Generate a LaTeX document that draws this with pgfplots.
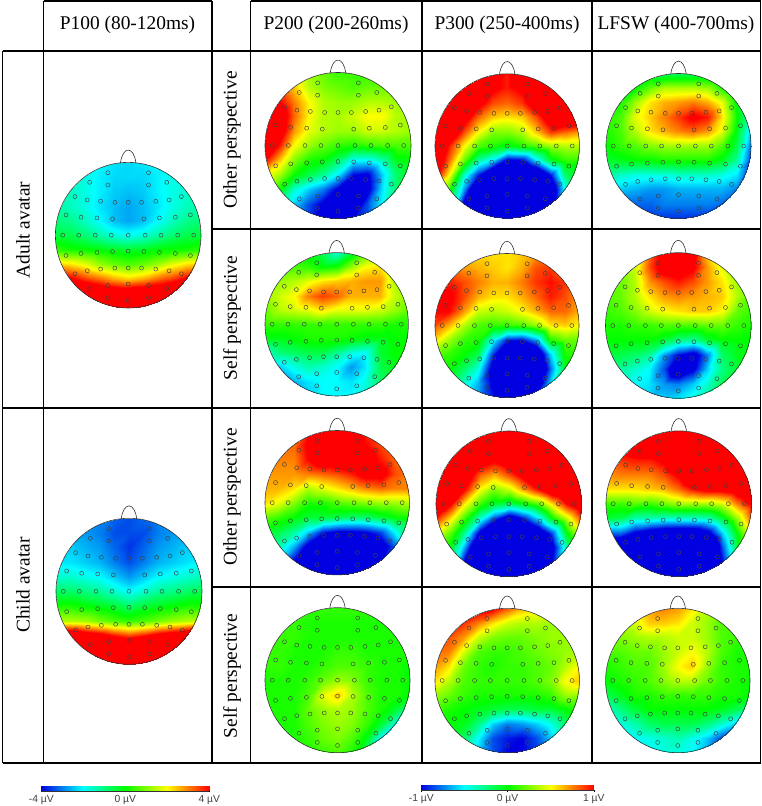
\documentclass[border=0pt]{standalone}
\usepackage{fontspec}
\setmainfont{Liberation Serif}
\setsansfont{Liberation Sans}
\usepackage{pgfplots}
\usepackage{pgfplotstable}
\pgfplotsset{compat=1.18}
% the scale runs over twice the printed range; beyond the printed range the colour stays saturated
\pgfplotsset{colormap={eeg}{rgb255=(0,0,225) rgb255=(0,0,225) rgb255=(0,0,225) rgb255=(0,255,255) rgb255=(0,255,0) rgb255=(255,255,0) rgb255=(255,0,0) rgb255=(255,0,0) rgb255=(255,0,0)}}

\pgfplotstableread{
x y
-0.279 0.858
0.279 0.858
-0.530 0.726
0.530 0.726
-0.279 0.689
0.279 0.689
-0.731 0.530
0.731 0.530
-0.562 0.484
0.562 0.484
-0.379 0.466
0.379 0.466
-0.183 0.452
0.183 0.452
0 0.452
-0.854 0.279
0.854 0.279
-0.648 0.247
0.648 0.247
-0.429 0.237
0.429 0.237
-0.215 0.224
0.215 0.224
-0.900 0
0.900 0
-0.680 0
0.680 0
-0.452 0
0.452 0
-0.233 0
0.233 0
0 0
-0.854 -0.279
0.854 -0.279
-0.648 -0.251
0.648 -0.251
-0.429 -0.237
0.429 -0.237
-0.215 -0.224
0.215 -0.224
0 -0.219
-0.731 -0.530
0.731 -0.530
-0.562 -0.489
0.562 -0.489
-0.379 -0.466
0.379 -0.466
-0.183 -0.452
0.183 -0.452
0 -0.452
-0.530 -0.731
0.530 -0.731
-0.279 -0.689
0.279 -0.689
0 -0.671
-0.279 -0.858
0.279 -0.858
0 -0.900
}\electrodes

% P100 adult
\pgfplotstableread[row sep=\\,header=false]{
-1.8\\-1.8\\-2\\-2\\-2.2\\-2.3\\-2.2\\-2\\-2\\-1.8\\-1.8\\
-1.6\\-1.6\\-1.8\\-2.1\\-2.3\\-2.3\\-2.3\\-2.1\\-1.8\\-1.8\\-1.6\\
-1.4\\-1.5\\-1.8\\-2.1\\-2.4\\-2.5\\-2.4\\-2.1\\-1.8\\-1.6\\-1.4\\
-1.3\\-1.5\\-1.8\\-2.2\\-2.5\\-2.7\\-2.5\\-2.2\\-1.8\\-1.5\\-1.3\\
-0.9\\-1.1\\-1.5\\-2\\-2.5\\-2.7\\-2.5\\-2\\-1.5\\-1.1\\-0.9\\
-0.5\\-0.6\\-0.9\\-1.3\\-1.7\\-1.9\\-1.7\\-1.3\\-0.9\\-0.6\\-0.5\\
0.4\\0.2\\0.1\\0\\-0.2\\-0.3\\-0.2\\0\\0.1\\0.2\\0.4\\
2.4\\2.2\\1.8\\1.2\\0.8\\0.6\\0.8\\1.2\\1.8\\2.2\\2.4\\
4.6\\4.2\\3.6\\3.2\\2.7\\2.4\\2.7\\3.2\\3.6\\4.2\\4.6\\
6\\6\\5.6\\5.2\\5\\5\\5\\5.2\\5.6\\6\\6\\
7\\7\\7\\7\\7\\7\\7\\7\\7\\7\\7\\
}\tPA
% P100 child
\pgfplotstableread[row sep=\\,header=false]{
-2.8\\-2.8\\-2.8\\-3\\-3.2\\-3.4\\-3.2\\-3\\-2.8\\-2.8\\-2.8\\
-2.6\\-2.6\\-2.8\\-3\\-3.4\\-3.4\\-3.4\\-3\\-2.8\\-2.6\\-2.6\\
-2.4\\-2.4\\-2.6\\-2.8\\-3.2\\-3.6\\-3.2\\-2.8\\-2.6\\-2.4\\-2.4\\
-2.2\\-2.2\\-2.4\\-2.6\\-3\\-3.4\\-3\\-2.6\\-2.4\\-2.2\\-2\\
-1.6\\-1.6\\-1.8\\-2\\-2.4\\-2.8\\-2.4\\-2\\-1.8\\-1.6\\-1.4\\
-0.8\\-0.8\\-1\\-1.2\\-1.6\\-2\\-1.6\\-1.2\\-1\\-0.8\\-0.6\\
0.2\\0.2\\0\\-0.2\\-0.4\\-0.8\\-0.4\\-0.2\\0\\0.2\\0.2\\
1.4\\1.4\\1.3\\0.9\\0.6\\0.4\\0.6\\0.9\\1.2\\1.4\\1.6\\
5.4\\5.4\\4.8\\4.4\\3.8\\3.4\\3.8\\4.4\\4.8\\5.4\\5.6\\
7\\7\\7\\7\\6.5\\6.5\\6.5\\7\\7\\7\\7\\
8\\8\\8\\8\\8\\8\\8\\8\\8\\8\\8\\
}\tPC
% row 1
\pgfplotstableread[row sep=\\,header=false]{
0.4\\0.4\\0.3\\0.3\\0.2\\0.1\\0.1\\0.1\\0.1\\0.1\\0.1\\
0.8\\0.8\\0.6\\0.35\\0.25\\0.2\\0.15\\0.2\\0.2\\0.2\\0.2\\
1.1\\1\\0.75\\0.5\\0.35\\0.3\\0.3\\0.35\\0.35\\0.3\\0.3\\
1.4\\1.2\\0.8\\0.5\\0.35\\0.33\\0.4\\0.5\\0.5\\0.35\\0.3\\
1.4\\1.15\\0.7\\0.45\\0.35\\0.3\\0.3\\0.4\\0.4\\0.35\\0.3\\
1.3\\0.95\\0.5\\0.3\\0.2\\0.1\\0.05\\0.1\\0.15\\0.15\\0.15\\
1\\0.6\\0.25\\0.05\\0\\-0.2\\-0.5\\-0.5\\-0.35\\-0.05\\0\\
0.5\\0.3\\0\\-0.15\\-0.3\\-0.55\\-1\\-1.05\\-0.6\\-0.2\\-0.05\\
0.3\\0\\-0.4\\-0.6\\-0.75\\-1.05\\-1.4\\-1.1\\-0.55\\-0.2\\-0.1\\
-0.1\\-0.3\\-0.6\\-0.85\\-1.05\\-1.2\\-1.2\\-0.85\\-0.5\\-0.3\\-0.2\\
-0.3\\-0.5\\-0.7\\-0.9\\-1.1\\-1.1\\-1\\-0.85\\-0.6\\-0.4\\-0.3\\
}\tAa
\pgfplotstableread[row sep=\\,header=false]{
1.5\\1.5\\1.5\\1.4\\1.2\\0.95\\1.2\\1.5\\1.6\\1.6\\1.6\\
1.5\\1.5\\1.5\\1.3\\1.05\\0.95\\1.05\\1.4\\1.6\\1.6\\1.6\\
1.6\\1.5\\1.4\\1.1\\0.85\\0.8\\0.9\\1.2\\1.5\\1.6\\1.6\\
1.6\\1.5\\1.15\\0.8\\0.6\\0.55\\0.6\\0.85\\1.2\\1.3\\1.3\\
1.6\\1.3\\0.85\\0.5\\0.25\\0.25\\0.35\\0.6\\0.9\\0.8\\0.7\\
1.5\\0.95\\0.5\\0.15\\0.05\\-0.05\\0.05\\0.15\\0.3\\0.35\\0.35\\
1.3\\0.8\\0.2\\-0.3\\-0.55\\-1.05\\-1\\-0.55\\-0.05\\0.1\\0.1\\
1.1\\0.5\\-0.4\\-0.95\\-1.5\\-1.8\\-1.8\\-1.5\\-0.95\\-0.2\\0\\
0.5\\0.1\\-0.7\\-1.5\\-2\\-2\\-2\\-2\\-1.3\\-0.45\\-0.1\\
0.2\\-0.1\\-1.1\\-2\\-2\\-2\\-2\\-2\\-1.3\\-0.7\\-0.3\\
-0.6\\-0.9\\-1.5\\-2\\-2\\-2\\-2\\-2\\-1.5\\-1\\-0.8\\
}\tAb
\pgfplotstableread[row sep=\\,header=false]{
-0.1\\-0.1\\-0.1\\-0.1\\-0.2\\-0.2\\-0.2\\-0.2\\-0.2\\-0.2\\-0.2\\
0\\0\\0\\0.2\\0.35\\0.35\\0.35\\0.3\\0.05\\-0.2\\-0.3\\
0\\0.05\\0.3\\0.55\\0.65\\0.7\\0.75\\0.65\\0.45\\-0.05\\-0.3\\
0.05\\0.15\\0.45\\0.6\\0.75\\0.9\\1.05\\0.95\\0.55\\0\\-0.4\\
0.05\\0.15\\0.35\\0.55\\0.65\\0.75\\0.8\\0.7\\0.45\\-0.05\\-0.6\\
0\\0.1\\0.15\\0.25\\0.3\\0.3\\0.3\\0.3\\0.15\\-0.15\\-0.8\\
-0.1\\-0.05\\0\\0\\0.05\\0.05\\0.05\\0.05\\-0.05\\-0.3\\-0.9\\
-0.3\\-0.4\\-0.45\\-0.45\\-0.45\\-0.4\\-0.4\\-0.4\\-0.45\\-0.55\\-0.95\\
-0.5\\-0.6\\-0.65\\-0.7\\-0.7\\-0.65\\-0.65\\-0.65\\-0.65\\-0.75\\-0.95\\
-0.8\\-0.8\\-0.8\\-0.8\\-0.75\\-0.75\\-0.75\\-0.75\\-0.8\\-0.85\\-0.9\\
-0.85\\-0.9\\-0.9\\-0.9\\-0.9\\-0.9\\-0.9\\-0.9\\-0.9\\-0.9\\-0.9\\
}\tAc
% row 2
\pgfplotstableread[row sep=\\,header=false]{
0.1\\0.1\\0.05\\-0.05\\-0.15\\-0.4\\-0.1\\0.15\\0.25\\0.25\\0.2\\
0.15\\0.15\\0.15\\0.1\\0\\0.05\\0.3\\0.5\\0.55\\0.3\\0.2\\
0.3\\0.3\\0.35\\0.45\\0.55\\0.6\\0.65\\0.7\\0.7\\0.35\\0.2\\
0.3\\0.4\\0.5\\0.75\\0.88\\0.8\\0.65\\0.65\\0.65\\0.4\\0.25\\
0.2\\0.35\\0.4\\0.45\\0.55\\0.45\\0.45\\0.45\\0.4\\0.3\\0.2\\
0.1\\0.1\\0.1\\0.1\\0.1\\0.1\\0.1\\0.1\\0.1\\0.05\\0.05\\
-0.05\\-0.05\\0\\0.05\\0.05\\0.05\\0\\-0.05\\-0.05\\0\\0\\
-0.4\\-0.25\\-0.2\\-0.15\\-0.15\\-0.3\\-0.45\\-0.5\\-0.1\\0\\0.05\\
-0.6\\-0.6\\-0.45\\-0.35\\-0.4\\-0.5\\-0.7\\-0.55\\-0.15\\-0.05\\-0.05\\
-0.8\\-0.8\\-0.65\\-0.55\\-0.5\\-0.5\\-0.55\\-0.45\\-0.2\\-0.1\\-0.1\\
-0.8\\-0.8\\-0.7\\-0.6\\-0.5\\-0.5\\-0.5\\-0.4\\-0.3\\-0.2\\-0.1\\
}\tBa
\pgfplotstableread[row sep=\\,header=false]{
0.6\\0.6\\0.55\\0.55\\0.55\\0.55\\0.6\\0.7\\0.75\\0.7\\0.6\\
0.7\\0.7\\0.7\\0.65\\0.6\\0.55\\0.65\\0.85\\0.9\\0.75\\0.7\\
0.95\\0.95\\0.85\\0.75\\0.65\\0.65\\0.75\\0.9\\0.98\\0.9\\0.7\\
1.05\\1.05\\0.85\\0.65\\0.55\\0.55\\0.65\\0.8\\0.95\\0.85\\0.7\\
1\\1\\0.7\\0.4\\0.35\\0.4\\0.5\\0.65\\0.8\\0.8\\0.65\\
0.85\\0.65\\0.35\\0.15\\0.1\\0.1\\0.15\\0.3\\0.55\\0.6\\0.5\\
0.55\\0.3\\0.1\\0.05\\-0.5\\-0.95\\-1\\-0.7\\0.05\\0.2\\0.2\\
0.2\\0.1\\0\\-0.15\\-0.9\\-1.5\\-1.7\\-1.4\\-0.6\\0.05\\0.1\\
0\\0\\-0.2\\-0.45\\-1.15\\-1.9\\-2\\-1.6\\-0.8\\-0.05\\0\\
-0.1\\-0.15\\-0.4\\-0.65\\-1.05\\-1.7\\-1.7\\-1.3\\-0.6\\-0.15\\0\\
-0.2\\-0.3\\-0.5\\-0.7\\-0.95\\-1.2\\-1.2\\-0.9\\-0.4\\-0.2\\-0.1\\
}\tBb
\pgfplotstableread[row sep=\\,header=false]{
0.3\\0.3\\0.4\\0.8\\1.1\\1.2\\1.1\\0.6\\0.3\\0.2\\0.15\\
0.2\\0.25\\0.4\\0.85\\1.15\\1.2\\1.05\\0.7\\0.45\\0.2\\0.15\\
0.15\\0.2\\0.35\\0.7\\0.85\\0.95\\0.85\\0.7\\0.55\\0.3\\0.15\\
0.15\\0.2\\0.35\\0.55\\0.7\\0.75\\0.7\\0.65\\0.6\\0.35\\0.15\\
0.1\\0.15\\0.25\\0.4\\0.5\\0.55\\0.6\\0.6\\0.5\\0.2\\0.1\\
0.05\\0.05\\0.1\\0.1\\0.15\\0.15\\0.15\\0.2\\0.2\\0.1\\0.05\\
0\\0\\0\\0\\-0.1\\-0.25\\-0.3\\-0.1\\0\\0\\0\\
-0.1\\-0.15\\-0.2\\-0.3\\-0.7\\-1\\-1.15\\-0.75\\-0.2\\-0.05\\0\\
-0.25\\-0.3\\-0.4\\-0.5\\-0.85\\-1.3\\-1.05\\-0.6\\-0.25\\-0.1\\0\\
-0.35\\-0.4\\-0.5\\-0.55\\-0.7\\-0.75\\-0.6\\-0.4\\-0.15\\-0.1\\-0.05\\
-0.5\\-0.5\\-0.55\\-0.6\\-0.6\\-0.55\\-0.45\\-0.3\\-0.15\\-0.1\\-0.05\\
}\tBc
% row 3
\pgfplotstableread[row sep=\\,header=false]{
0.75\\0.75\\0.8\\0.95\\1.2\\1.3\\1.1\\0.9\\0.8\\0.75\\0.7\\
0.7\\0.7\\0.8\\1.05\\1.4\\1.4\\1.2\\1\\0.85\\0.75\\0.7\\
0.75\\0.75\\0.75\\1\\1.2\\1.2\\1.3\\1.15\\0.95\\0.8\\0.75\\
0.7\\0.7\\0.7\\0.75\\0.8\\0.85\\0.95\\1.1\\1.1\\0.85\\0.75\\
0.65\\0.65\\0.55\\0.35\\0.45\\0.55\\0.65\\0.75\\0.8\\0.75\\0.75\\
0.55\\0.45\\0.25\\0.05\\0.05\\0.15\\0.2\\0.25\\0.3\\0.3\\0.35\\
0.2\\0.1\\0\\-0.1\\-0.1\\-0.15\\-0.2\\-0.2\\-0.1\\0\\0.05\\
-0.05\\-0.15\\-0.3\\-0.6\\-0.95\\-1.05\\-1.05\\-1\\-0.85\\-0.5\\-0.05\\
-0.2\\-0.35\\-0.65\\-1.1\\-1.4\\-1.5\\-1.5\\-1.4\\-1.15\\-0.8\\-0.2\\
-0.3\\-0.6\\-1\\-1.5\\-1.8\\-1.9\\-1.9\\-1.7\\-1.05\\-0.6\\-0.3\\
-0.5\\-0.9\\-1.5\\-1.9\\-2\\-2\\-2\\-1.7\\-1.2\\-0.8\\-0.5\\
}\tCa
\pgfplotstableread[row sep=\\,header=false]{
2\\2\\2\\2\\2\\2\\2\\2\\2\\2\\2\\
2\\2\\2\\1.8\\1.6\\1.8\\2\\2\\2\\2\\2\\
1.6\\1.6\\1.5\\1.15\\1.05\\1.2\\1.5\\1.6\\1.6\\1.6\\1.6\\
1.6\\1.5\\1.2\\0.8\\0.65\\0.85\\1.1\\1.4\\1.6\\1.6\\1.6\\
1.5\\1.3\\1\\0.5\\0.25\\0.4\\0.7\\1\\1.3\\1.5\\1.6\\
1.4\\1\\0.5\\0.1\\-0.1\\-0.2\\-0.05\\0.15\\0.55\\1\\1.3\\
0.95\\0.55\\0.1\\-0.4\\-0.85\\-1.2\\-0.95\\-0.55\\0\\0.4\\0.9\\
0.5\\0.15\\-0.3\\-1.1\\-1.6\\-1.8\\-1.6\\-1.3\\-0.85\\0\\0.45\\
0.2\\-0.05\\-0.7\\-1.6\\-2\\-2\\-2\\-1.7\\-1.1\\-0.3\\0.15\\
0\\-0.25\\-1.1\\-2\\-2\\-2\\-2\\-1.7\\-1\\-0.5\\-0.2\\
-0.5\\-1\\-1.8\\-2\\-2\\-2\\-2\\-2\\-1.8\\-1\\-0.6\\
}\tCb
\pgfplotstableread[row sep=\\,header=false]{
1.3\\1.4\\1.5\\1.7\\1.7\\1.7\\1.7\\1.7\\1.7\\1.7\\1.7\\
1.1\\1.1\\1.2\\1.3\\1.4\\1.6\\1.8\\1.8\\1.8\\1.8\\1.8\\
0.95\\0.9\\0.95\\0.95\\1.05\\1.4\\1.6\\1.7\\1.7\\1.7\\1.7\\
0.7\\0.75\\0.75\\0.75\\0.85\\1.05\\1.4\\1.5\\1.5\\1.5\\1.6\\
0.55\\0.55\\0.55\\0.6\\0.65\\0.8\\0.98\\1.1\\1.1\\1.2\\1.4\\
0.1\\0.1\\0.15\\0.1\\0.2\\0.3\\0.3\\0.3\\0.4\\0.75\\1.05\\
-0.1\\-0.15\\-0.35\\-0.35\\-0.4\\-0.4\\-0.4\\-0.35\\-0.1\\0.3\\0.85\\
-0.8\\-0.8\\-1.05\\-1.2\\-1.3\\-1.3\\-1.3\\-1.1\\-0.6\\0\\0.5\\
-1.4\\-1.5\\-1.7\\-1.8\\-1.9\\-1.9\\-1.9\\-1.7\\-0.85\\-0.1\\0.2\\
-2\\-2\\-2\\-2\\-2\\-2\\-2\\-1.7\\-1\\-0.4\\-0.1\\
-2\\-2\\-2\\-2\\-2\\-2\\-2\\-2\\-1.5\\-0.8\\-0.5\\
}\tCc
% row 4
\pgfplotstableread[row sep=\\,header=false]{
0.1\\0.1\\0.1\\0.1\\0.1\\0.1\\0.1\\0.1\\0.1\\0.1\\0.1\\
0.1\\0.1\\0.1\\0.05\\0.05\\0.05\\0.05\\0.05\\0.05\\0.05\\0.05\\
0.1\\0.1\\0.1\\0.05\\0.05\\0.05\\0.05\\0.05\\0.05\\0.05\\0.05\\
0.1\\0.1\\0.05\\0.05\\0.05\\0.1\\0.1\\0.05\\0.05\\0.05\\0.05\\
0.1\\0.1\\0.05\\0.05\\0.1\\0.15\\0.15\\0.1\\0.05\\0.05\\0\\
0.05\\0.05\\0.05\\0.1\\0.2\\0.3\\0.25\\0.1\\0.05\\0.05\\0\\
0.05\\0.05\\0.05\\0.15\\0.45\\0.6\\0.35\\0.15\\0.05\\0.05\\0\\
0.05\\0.05\\0.05\\0.2\\0.3\\0.35\\0.3\\0.15\\0.05\\-0.1\\-0.3\\
0.05\\0.05\\0.05\\0.15\\0.25\\0.3\\0.25\\0.1\\-0.1\\-0.45\\-0.7\\
0.05\\0.05\\0.05\\0.1\\0.2\\0.25\\0.15\\-0.05\\-0.5\\-0.85\\-1\\
0.05\\0.05\\0.05\\0.05\\0.1\\0.15\\0.05\\-0.2\\-0.6\\-1\\-1.1\\
}\tDa
\pgfplotstableread[row sep=\\,header=false]{
0.9\\0.95\\1.1\\1.1\\1.05\\0.85\\0.65\\0.55\\0.5\\0.4\\0.35\\
0.95\\0.95\\0.9\\0.75\\0.55\\0.4\\0.35\\0.35\\0.3\\0.3\\0.3\\
0.85\\0.85\\0.7\\0.4\\0.25\\0.2\\0.2\\0.25\\0.3\\0.3\\0.25\\
0.8\\0.75\\0.4\\0.15\\0.1\\0.1\\0.15\\0.2\\0.25\\0.3\\0.35\\
0.7\\0.55\\0.2\\0.1\\0.05\\0.1\\0.1\\0.15\\0.2\\0.35\\0.5\\
0.55\\0.35\\0.15\\0.1\\0.1\\0.1\\0.1\\0.15\\0.25\\0.5\\0.6\\
0.3\\0.2\\0.1\\0.05\\0.05\\0.05\\0.05\\0.05\\0.1\\0.3\\0.3\\
0.15\\0.05\\0\\-0.05\\-0.1\\-0.15\\-0.15\\-0.1\\-0.1\\0\\0.1\\
0.05\\0\\-0.05\\-0.25\\-0.6\\-0.75\\-0.7\\-0.6\\-0.45\\-0.2\\0\\
0\\-0.1\\-0.2\\-0.5\\-0.85\\-0.95\\-1\\-0.85\\-0.6\\-0.3\\-0.1\\
0\\-0.1\\-0.3\\-0.6\\-0.85\\-1\\-1\\-0.9\\-0.5\\-0.3\\-0.1\\
}\tDb
\pgfplotstableread[row sep=\\,header=false]{
0.4\\0.5\\0.55\\0.7\\0.75\\0.7\\0.55\\0.35\\0.25\\0.2\\0.1\\
0.35\\0.35\\0.4\\0.6\\0.6\\0.55\\0.4\\0.3\\0.15\\0.15\\0.1\\
0.2\\0.25\\0.3\\0.35\\0.35\\0.4\\0.4\\0.3\\0.15\\0.1\\0.1\\
0.15\\0.15\\0.2\\0.2\\0.3\\0.4\\0.5\\0.35\\0.15\\0.05\\0.05\\
0.05\\0.1\\0.15\\0.15\\0.3\\0.5\\0.6\\0.3\\0.1\\0.05\\0.05\\
0\\0.05\\0.1\\0.15\\0.25\\0.35\\0.35\\0.2\\0.1\\0.05\\0\\
-0.15\\-0.05\\0.05\\0.05\\0.1\\0.1\\0.1\\0.1\\0.05\\0.05\\0\\
-0.4\\-0.25\\-0.1\\0\\0\\0\\0\\0\\-0.05\\-0.15\\-0.25\\
-0.55\\-0.45\\-0.35\\-0.2\\-0.15\\-0.15\\-0.15\\-0.25\\-0.4\\-0.6\\-0.7\\
-0.6\\-0.55\\-0.5\\-0.45\\-0.4\\-0.35\\-0.45\\-0.6\\-0.85\\-0.95\\-1\\
-0.6\\-0.55\\-0.5\\-0.5\\-0.45\\-0.45\\-0.5\\-0.7\\-0.85\\-1\\-1.05\\
}\tDc

% cx, cy (from the top), r, table, meta range
\newcommand{\head}[5]{%
  \begin{scope}
  \clip ({#1pt},{(806-#2)*1pt}) circle ({#3pt});
  \begin{axis}[at={({#1pt},{(806-#2)*1pt})},anchor=origin,x=#3pt,y=#3pt,
     xmin=-1,xmax=1,ymin=-1,ymax=1,hide axis,clip=false,
     colormap name=eeg,point meta min=-#5,point meta max=#5]
   \addplot[surf,shader=interp,mesh/cols=11,point meta=explicit]
     table[x index=0,y index=0,x expr={-1+0.2*mod(\coordindex,11)},y expr={1-0.2*floor(\coordindex/11)},meta index=0]{#4};
   \addplot[only marks,mark=o,mark size=2pt,mark options={draw=black!75,line width=0.45pt}]
     table[x=x,y=y]{\electrodes};
  \end{axis}
  \end{scope}
  \draw[line width=0.6pt,black!80] ({#1pt},{(806-#2)*1pt}) circle ({#3pt});
  \draw[line width=0.6pt,black!80] ({(#1-0.107*#3)*1pt},{(806-#2+0.99*#3)*1pt})
     .. controls ({(#1-0.075*#3)*1pt},{(806-#2+1.23*#3)*1pt}) and ({(#1+0.075*#3)*1pt},{(806-#2+1.23*#3)*1pt})
     .. ({(#1+0.107*#3)*1pt},{(806-#2+0.99*#3)*1pt});
}
% x0, width, printed range, table, bottom (from the top), meta range
\newcommand{\cbar}[6]{%
  \begin{axis}[at={({#1pt},{(806-#5)*1pt})},anchor=south west,scale only axis,
     width={#2pt},height=5.3pt,xmin=-#3,xmax=#3,ymin=0,ymax=1,
     axis y line=none,axis x line*=bottom,x axis line style={-,line width=0.8pt,black!80},
     colormap name=eeg,point meta min=-#6,point meta max=#6,
     xtick={-#3,0,#3},xticklabels={-#3 µV,0 µV,#3 µV},
     xticklabel style={font=\sffamily\fontsize{10.3}{12}\selectfont,text=black!75,anchor=center,yshift=-7.5pt},
     tick style={black,line width=0.4pt},major tick length=1.5pt,tick align=outside,
     axis on top]
   \addplot[surf,shader=interp,mesh/cols=5,point meta=explicit]
     table[x=x,y=y,meta=m]{#4};
  \end{axis}
}
\pgfplotstableread{
x y m
-4 0 -4
-2 0 -2
0 0 0
2 0 2
4 0 4
-4 1 -4
-2 1 -2
0 1 0
2 1 2
4 1 4
}\barA
\pgfplotstableread{
x y m
-1 0 -1
-0.5 0 -0.5
0 0 0
0.5 0 0.5
1 0 1
-1 1 -1
-0.5 1 -0.5
0 1 0
0.5 1 0.5
1 1 1
}\barB

\begin{document}
\begin{tikzpicture}[x=1pt,y=1pt]
\path[use as bounding box] (0,0) rectangle (762,806);
\head{128.2}{235.2}{72.8}{\tPA}{8}
\head{129}{591.3}{73}{\tPC}{8}
\head{338}{145.5}{73}{\tAa}{2}
\head{507.2}{146}{72.2}{\tAb}{2}
\head{678.5}{146}{72.5}{\tAc}{2}
\head{336.7}{324.3}{71.7}{\tBa}{2}
\head{507}{325.5}{72}{\tBb}{2}
\head{678.3}{325.5}{72.8}{\tBc}{2}
\head{337.2}{502.7}{72.2}{\tCa}{2}
\head{508.8}{503.8}{72.8}{\tCb}{2}
\head{678.8}{503.7}{72.8}{\tCc}{2}
\head{337.5}{680.2}{72.5}{\tDa}{2}
\head{507.2}{680.5}{72.2}{\tDb}{2}
\head{677.8}{680.5}{72.2}{\tDc}{2}
\cbar{41.3}{168}{4}{\barA}{791}{8}
\cbar{421.3}{172.4}{1}{\barB}{790}{2}
% frame
\begin{scope}[line width=1.35pt,black]
\draw (43.5,805) -- (212,805) (250.5,805) -- (760.5,805);
\draw (2.5,755) -- (760.5,755);
\draw (212,577) -- (760.5,577);
\draw (2.5,398) -- (760.5,398);
\draw (212,219) -- (760.5,219);
\draw (2.5,43) -- (760.5,43);
\draw (2.5,755) -- (2.5,43);
\draw (43.5,805) -- (43.5,43);
\draw (212,805) -- (212,43);
\draw (250.5,805) -- (250.5,43);
\draw (422,805) -- (422,43);
\draw (592,805) -- (592,43);
\draw (760.5,805) -- (760.5,43);
\end{scope}
\begin{scope}[every node/.style={font=\fontsize{19.4}{22}\selectfont,text=black,inner sep=0pt}]
\node at (127.5,781) {P100 (80-120ms)};
\node at (336,781) {P200 (200-260ms)};
\node at (507,781) {P300 (250-400ms)};
\node at (676,781) {LFSW (400-700ms)};
\node[rotate=90] at (23,576) {Adult avatar};
\node[rotate=90] at (23,221) {Child avatar};
\node[rotate=90] at (232,666) {Other perspective};
\node[rotate=90] at (232,488) {Self perspective};
\node[rotate=90] at (232,309) {Other perspective};
\node[rotate=90] at (232,130) {Self perspective};
\end{scope}
\end{tikzpicture}
\end{document}
